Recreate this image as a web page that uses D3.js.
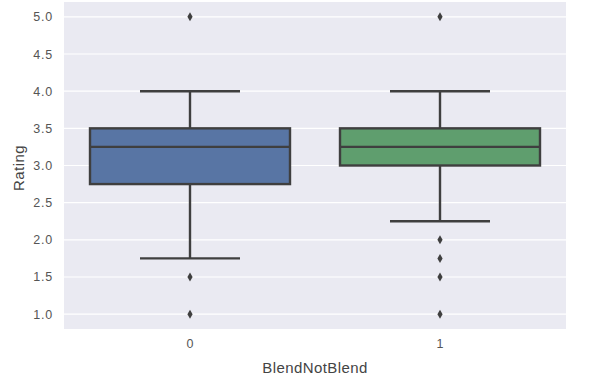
<!DOCTYPE html>
<html>
<head>
<meta charset="utf-8">
<script src="https://d3js.org/d3.v7.min.js"></script>
<style>
  body { margin: 0; background: #fff; }
  text { font-family: "Liberation Sans", Arial, sans-serif; }
</style>
</head>
<body>
<svg id="chart" width="589" height="384"></svg>
<script>
// dados
var categorias = ["0", "1"];
var cores = ["#5875a4", "#5f9e6e"];
var q1 = [2.75, 3.0];
var mediana = [3.25, 3.25];
var q3 = [3.5, 3.5];
var bigodeBaixo = [1.75, 2.25];
var bigodeAlto = [4.0, 4.0];
var outliers = [
  [5.0, 1.5, 1.0],
  [5.0, 2.0, 1.75, 1.5, 1.0]
];
var yTicks = [1.0, 1.5, 2.0, 2.5, 3.0, 3.5, 4.0, 4.5, 5.0];

var margem = { left: 64, right: 23, top: 2, bottom: 55 };
var largura = 589, altura = 384;
var corLinha = "#3f3f3f";

var svg = d3.select("#chart");

var xScale = d3.scaleBand()
  .domain(categorias)
  .range([margem.left + 1, largura - margem.right - 1])
  .padding(0);

var yScale = d3.scaleLinear()
  .domain([0.8, 5.2])
  .range([altura - margem.bottom, margem.top]);

// fundo
svg.append("rect")
  .attr("x", margem.left)
  .attr("y", margem.top)
  .attr("width", largura - margem.right - margem.left)
  .attr("height", altura - margem.bottom - margem.top)
  .attr("fill", "#eaeaf2");

// grade
svg.selectAll(".grade")
  .data(yTicks)
  .enter()
  .append("line")
  .attr("x1", margem.left)
  .attr("x2", largura - margem.right)
  .attr("y1", function(d) { return yScale(d); })
  .attr("y2", function(d) { return yScale(d); })
  .attr("stroke", "#fff")
  .attr("stroke-width", 1.2);

// eixo y
var eixoY = svg.append("g")
  .attr("transform", "translate(" + margem.left + ",0)")
  .call(d3.axisLeft(yScale).tickValues(yTicks).tickFormat(d3.format(".1f")).tickSize(0).tickPadding(11));
eixoY.select(".domain").remove();
eixoY.selectAll("text").style("fill", "#555").style("font-size", "12.5px").style("letter-spacing", "0.8px");

// eixo x
var eixoX = svg.append("g")
  .attr("transform", "translate(0," + (altura - margem.bottom) + ")")
  .call(d3.axisBottom(xScale).tickSize(0).tickPadding(10));
eixoX.select(".domain").remove();
eixoX.selectAll("text").style("fill", "#555").style("font-size", "12.5px");

// rotulos
svg.append("text")
  .attr("x", 315)
  .attr("y", 373)
  .attr("text-anchor", "middle")
  .style("fill", "#444")
  .style("font-size", "15px")
  .style("letter-spacing", "0.4px")
  .text("BlendNotBlend");

svg.append("text")
  .attr("transform", "translate(24,168) rotate(-90)")
  .attr("text-anchor", "middle")
  .style("fill", "#444")
  .style("font-size", "15px")
  .style("letter-spacing", "0.4px")
  .text("Rating");

// caixas
var grupos = svg.selectAll(".caixa")
  .data(categorias)
  .enter()
  .append("g");

grupos.each(function(c, i) {
  var g = d3.select(this);
  var w = xScale.bandwidth() * 0.8;
  var cx = xScale(c) + xScale.bandwidth() / 2, x0 = cx - w / 2;

  // bigodes
  g.append("line")
    .attr("x1", cx).attr("x2", cx)
    .attr("y1", yScale(q3[i])).attr("y2", yScale(bigodeAlto[i]))
    .attr("stroke", corLinha).attr("stroke-width", 2.4);
  g.append("line")
    .attr("x1", cx).attr("x2", cx)
    .attr("y1", yScale(q1[i])).attr("y2", yScale(bigodeBaixo[i]))
    .attr("stroke", corLinha).attr("stroke-width", 2.4);
  [bigodeAlto[i], bigodeBaixo[i]].forEach(function(v) {
    g.append("line")
      .attr("x1", cx - w / 4).attr("x2", cx + w / 4)
      .attr("y1", yScale(v)).attr("y2", yScale(v))
      .attr("stroke", corLinha).attr("stroke-width", 2.4);
  });

  g.append("rect")
    .attr("x", x0)
    .attr("y", yScale(q3[i]))
    .attr("width", w)
    .attr("height", yScale(q1[i]) - yScale(q3[i]))
    .attr("fill", cores[i])
    .attr("stroke", corLinha)
    .attr("stroke-width", 2.4);

  g.append("line")
    .attr("x1", x0).attr("x2", x0 + w)
    .attr("y1", yScale(mediana[i])).attr("y2", yScale(mediana[i]))
    .attr("stroke", corLinha).attr("stroke-width", 2.4);

  g.selectAll(".outlier")
    .data(outliers[i])
    .enter()
    .append("path")
    .attr("d", "M0,-4.5L2.6,0L0,4.5L-2.6,0Z")
    .attr("transform", function(d) { return "translate(" + cx + "," + yScale(d) + ")"; })
    .attr("fill", corLinha);
});
</script>
</body>
</html>
